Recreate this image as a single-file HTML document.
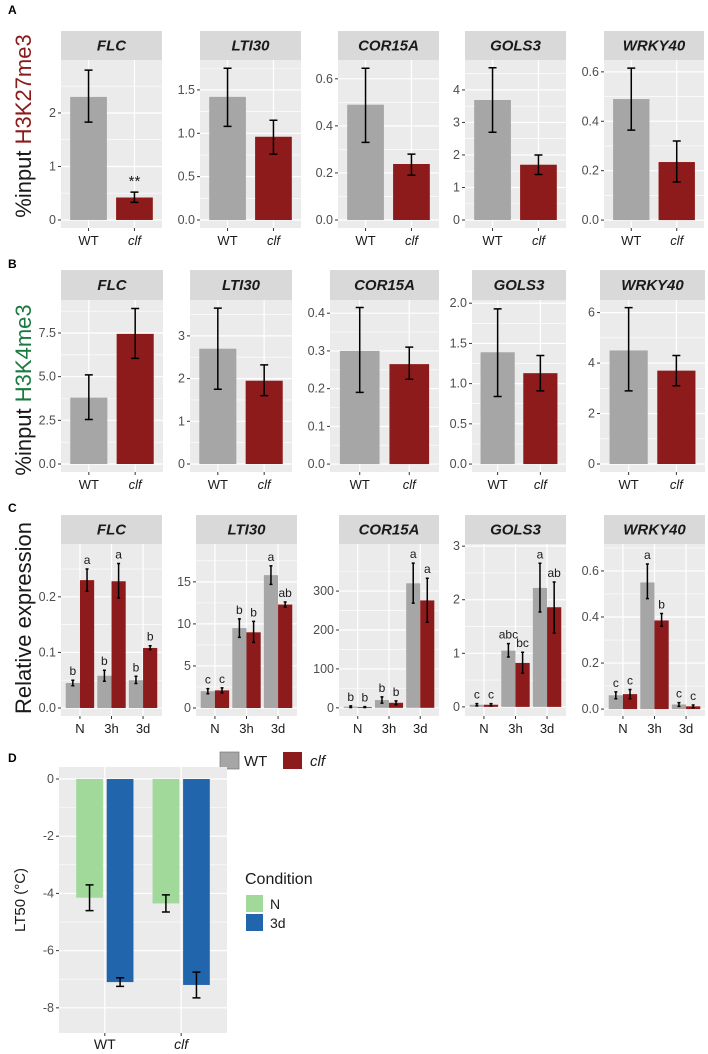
<!DOCTYPE html>
<html><head><meta charset="utf-8"><style>
body{margin:0;background:#fff;}
svg{display:block;font-family:"Liberation Sans",sans-serif;}
</style></head><body>
<svg id="fig" width="708" height="1054" viewBox="0 0 708 1054" xmlns="http://www.w3.org/2000/svg">
<text x="8" y="14" font-size="12" font-weight="bold">A</text>
<text x="8" y="268" font-size="12" font-weight="bold">B</text>
<text x="8" y="512" font-size="12" font-weight="bold">C</text>
<text x="8" y="762" font-size="12" font-weight="bold">D</text>
<text transform="translate(31,126) rotate(-90)" text-anchor="middle" font-size="22" fill="#1a1a1a">%input <tspan fill="#8b1a1a">H3K27me3</tspan></text>
<text transform="translate(31,390) rotate(-90)" text-anchor="middle" font-size="22" fill="#1a1a1a">%input <tspan fill="#1a7a40">H3K4me3</tspan></text>
<text transform="translate(31,618) rotate(-90)" text-anchor="middle" font-size="22" fill="#1a1a1a">Relative expression</text>
<g>
<rect x="220" y="752" width="19" height="17" fill="#a6a6a6" stroke="#777" stroke-width="0.7"/>
<text x="244" y="766" font-size="15" fill="#1a1a1a">WT</text>
<rect x="283" y="752" width="19" height="17" fill="#8e1b1b"/>
<text x="310" y="766" font-size="15" font-style="italic" fill="#1a1a1a">clf</text>
</g>
<text transform="translate(25,900) rotate(-90)" text-anchor="middle" font-size="15" fill="#1a1a1a">LT50 (°C)</text>
<g>
<text x="245" y="884" font-size="16" fill="#1a1a1a">Condition</text>
<rect x="246" y="895" width="17" height="17" fill="#a1d99b"/>
<text x="270" y="909" font-size="14" fill="#1a1a1a">N</text>
<rect x="246" y="914" width="17" height="17" fill="#2166ac"/>
<text x="270" y="928" font-size="14" fill="#1a1a1a">3d</text>
</g>
</svg>
<script>
// ---- data ----
const genes = ["FLC","LTI30","COR15A","GOLS3","WRKY40"];
const genotypes = ["WT","clf"];
const timepoints = ["N","3h","3d"];
// Panel A: H3K27me3 [WT, clf]
const aMean = [[2.3,0.42],[1.42,0.96],[0.49,0.238],[3.69,1.7],[0.49,0.235]];
const aLo = [[1.83,0.33],[1.08,0.76],[0.33,0.19],[2.7,1.4],[0.364,0.154]];
const aHi = [[2.8,0.52],[1.75,1.15],[0.645,0.28],[4.68,2.0],[0.615,0.32]];
const aTicks = [[0,1,2],[0,0.5,1,1.5],[0,0.2,0.4,0.6],[0,1,2,3,4],[0,0.2,0.4,0.6]];
const aTickLabels = [["0","1","2"],["0.0","0.5","1.0","1.5"],["0.0","0.2","0.4","0.6"],["0","1","2","3","4"],["0.0","0.2","0.4","0.6"]];
const aDomain = [[-0.15,2.99],[-0.092,1.845],[-0.034,0.68],[-0.246,4.92],[-0.032,0.648]];
// Panel B: H3K4me3
const bMean = [[3.8,7.45],[2.7,1.95],[0.30,0.265],[1.39,1.13],[4.5,3.7]];
const bLo = [[2.55,6.05],[1.75,1.6],[0.19,0.225],[0.84,0.91],[2.9,3.1]];
const bHi = [[5.1,8.9],[3.65,2.32],[0.415,0.31],[1.93,1.35],[6.2,4.3]];
const bTicks = [[0,2.5,5,7.5],[0,1,2,3],[0,0.1,0.2,0.3,0.4],[0,0.5,1,1.5,2],[0,2,4,6]];
const bTickLabels = [["0.0","2.5","5.0","7.5"],["0","1","2","3"],["0.0","0.1","0.2","0.3","0.4"],["0.0","0.5","1.0","1.5","2.0"],["0","2","4","6"]];
const bDomain = [[-0.458,9.39],[-0.187,3.84],[-0.021,0.435],[-0.099,2.04],[-0.317,6.5]];
// Panel C: relative expression [timepoint][WT, clf]
const cMean = [
 [[0.045,0.23],[0.058,0.228],[0.05,0.108]],
 [[2.0,2.1],[9.5,9.0],[15.8,12.3]],
 [[3,2],[20,13],[320,276]],
 [[0.04,0.04],[1.05,0.82],[2.22,1.86]],
 [[0.06,0.065],[0.55,0.385],[0.02,0.012]]];
const cLo = [
 [[0.04,0.21],[0.048,0.198],[0.044,0.105]],
 [[1.7,1.8],[8.4,7.8],[14.7,12.0]],
 [[1,1],[12,8],[269,220]],
 [[0.02,0.02],[0.93,0.63],[1.77,1.38]],
 [[0.045,0.045],[0.48,0.36],[0.012,0.006]]];
const cHi = [
 [[0.05,0.25],[0.068,0.26],[0.057,0.112]],
 [[2.3,2.4],[10.6,10.3],[16.9,12.6]],
 [[5,3],[28,18],[372,333]],
 [[0.06,0.06],[1.18,1.02],[2.68,2.33]],
 [[0.075,0.085],[0.63,0.415],[0.028,0.018]]];
const cLetters = [
 [["b","a"],["b","a"],["b","b"]],
 [["c","c"],["b","b"],["a","ab"]],
 [["b","b"],["b","b"],["a","a"]],
 [["c","c"],["abc","bc"],["a","ab"]],
 [["c","c"],["a","b"],["c","c"]]];
const cTicks = [[0,0.1,0.2],[0,5,10,15],[0,100,200,300],[0,1,2,3],[0,0.2,0.4,0.6]];
const cTickLabels = [["0.0","0.1","0.2"],["0","5","10","15"],["0","100","200","300"],["0","1","2","3"],["0.0","0.2","0.4","0.6"]];
const cDomain = [[-0.0144,0.295],[-0.95,19.5],[-21,421],[-0.17,3.04],[-0.03,0.717]];
// Panel D: LT50 [genotype][N, 3d]
const conditions = ["N","3d"];
const dMean = [[-4.15,-7.1],[-4.35,-7.2]];
const dLo = [[-4.6,-7.25],[-4.65,-7.65]];
const dHi = [[-3.7,-6.95],[-4.05,-6.75]];
const dTicks = [0,-2,-4,-6,-8];
const dTickLabels = ["0","-2","-4","-6","-8"];

// ---- layout ----
const NS="http://www.w3.org/2000/svg";
const svg=document.getElementById("fig");
const GREY="#a6a6a6", RED="#8e1b1b";
function mk(tag,attrs,parent){const e=document.createElementNS(NS,tag);for(const k in attrs)e.setAttribute(k,attrs[k]);(parent||svg).appendChild(e);return e;}
function scaleY(dom,top,bot){return v=>bot-(v-dom[0])/(dom[1]-dom[0])*(bot-top);}
function errbar(g,x,y1,y2,cap,name){
 const e=mk("path",{d:`M${x-cap},${y1}H${x+cap}M${x},${y1}V${y2}M${x-cap},${y2}H${x+cap}`,stroke:"#000","stroke-width":1.5,fill:"none"},g);
 
 
}
function panelFrame(g,x0,w,stripTop,top,bot,gene,ticks,labels,y,cx,xlabels,italicIdx){
 const s=mk("rect",{x:x0,y:stripTop,width:w,height:top-stripTop,fill:"#d9d9d9"},g);
 
 
 const st=mk("text",{x:x0+w/2,y:(stripTop+top)/2+5,"text-anchor":"middle","font-size":15,"font-weight":"bold","font-style":"italic",fill:"#1a1a1a"},g);
 st.textContent=gene;
 
 
 const bg=mk("rect",{x:x0,y:top,width:w,height:bot-top,fill:"#ebebeb"},g);
 
 
 for(let i=0;i<ticks.length;i++){
  const mid=i<ticks.length-1?(ticks[i]+ticks[i+1])/2:ticks[i]+(ticks[i]-ticks[i-1])/2;
  const my=y(mid); if(my>top&&my<bot){const l=mk("line",{x1:x0,x2:x0+w,y1:my,y2:my,stroke:"#fff","stroke-width":0.6},g);}
 }
 if(ticks.length>0){const m0=ticks[0]-(ticks[1]-ticks[0])/2;const my=y(m0);if(my>top&&my<bot){const l=mk("line",{x1:x0,x2:x0+w,y1:my,y2:my,stroke:"#fff","stroke-width":0.6},g);}}
 ticks.forEach((t,i)=>{
  const ty=y(t);
  const l=mk("line",{x1:x0,x2:x0+w,y1:ty,y2:ty,stroke:"#fff","stroke-width":1.2},g);
  
  
  mk("line",{x1:x0-3,x2:x0,y1:ty,y2:ty,stroke:"#333","stroke-width":1},g);
  const tl=mk("text",{x:x0-5,y:ty+4,"text-anchor":"end","font-size":12.5,fill:"#4d4d4d"},g);
  tl.textContent=labels[i];
  
  
 });
 cx.forEach((c,i)=>{
  const l=mk("line",{x1:c,x2:c,y1:top,y2:bot,stroke:"#fff","stroke-width":1.2},g);
  
  
  mk("line",{x1:c,x2:c,y1:bot,y2:bot+3,stroke:"#333","stroke-width":1},g);
  const xl=mk("text",{x:c,y:bot+17,"text-anchor":"middle","font-size":13,fill:"#1a1a1a","font-style":(i===italicIdx?"italic":"normal")},g);
  xl.textContent=xlabels[i];
  
  
 });
}
function twoBarRow(rowName,lefts,widths,stripTop,top,bot,means,los,his,ticks,tlabels,domains,stars){
 genes.forEach((gene,p)=>{
  const g=mk("g",{});
  
  
  const x0=lefts[p],w=widths[p],y=scaleY(domains[p],top,bot),u=w/2.2;
  const cx=genotypes.map((_,i)=>x0+u*(0.6+i));
  panelFrame(g,x0,w,stripTop,top,bot,gene,ticks[p],tlabels[p],y,cx,genotypes,1);
  genotypes.forEach((gt,i)=>{
   const b=mk("rect",{x:cx[i]-0.4*u,width:0.8*u,y:y(means[p][i]),height:y(0)-y(means[p][i]),fill:i?RED:GREY},g);
   
   
   errbar(g,cx[i],y(his[p][i]),y(los[p][i]),4,'error-bar-'+gt.toLowerCase());
  });
  if(stars&&stars[p]){const t=mk("text",{x:cx[1],y:y(his[p][1])-6,"text-anchor":"middle","font-size":15,fill:"#1a1a1a"},g);t.textContent=stars[p];}
 });
}
twoBarRow("h3k27me3",[61,200,338,465,604],[101,101,101,101,100],31,60,228,aMean,aLo,aHi,aTicks,aTickLabels,aDomain,["**","","","",""]);
twoBarRow("h3k4me3",[61,190,330,472,600],[102,102,109,94,105],270,300,472,bMean,bLo,bHi,bTicks,bTickLabels,bDomain,null);

// Row C
const cLefts=[61,196,339,465,604], cWidths=[101,101,100,101,101];
genes.forEach((gene,p)=>{
 const g=mk("g",{});
 
 
 const top=544,bot=716,x0=cLefts[p],w=cWidths[p],y=scaleY(cDomain[p],top,bot),u=w/3.2;
 const cx=timepoints.map((_,i)=>x0+u*(0.6+i));
 panelFrame(g,x0,w,515,top,bot,gene,cTicks[p],cTickLabels[p],y,cx,timepoints,-1);
 timepoints.forEach((tp,i)=>{
  genotypes.forEach((gt,j)=>{
   const bx=cx[i]+(j?0.225:-0.225)*u, v=cMean[p][i][j];
   const b=mk("rect",{x:bx-0.225*u,width:0.45*u,y:y(Math.max(v,0)),height:Math.abs(y(0)-y(v)),fill:j?RED:GREY},g);
   
   
   errbar(g,bx,y(cHi[p][i][j]),y(cLo[p][i][j]),1.5,'error-bar-'+gt.toLowerCase()+'-'+tp);
   const t=mk("text",{x:bx,y:y(cHi[p][i][j])-5,"text-anchor":"middle","font-size":12,fill:"#1a1a1a"},g);
   t.textContent=cLetters[p][i][j];
   
   
  });
 });
});

// Panel D
(function(){
 const g=mk("g",{});
 
 
 const x0=59,w=168,top=767,bot=1033,dom=[-8.88,0.42];
 const y=scaleY(dom,top,bot),u=w/2.2;
 const bg=mk("rect",{x:x0,y:top,width:w,height:bot-top,fill:"#ebebeb"},g);
 
 
 for(let k=-1;k>=-7;k-=2){const l=mk("line",{x1:x0,x2:x0+w,y1:y(k),y2:y(k),stroke:"#fff","stroke-width":0.6},g);}
 dTicks.forEach((t,i)=>{
  const l=mk("line",{x1:x0,x2:x0+w,y1:y(t),y2:y(t),stroke:"#fff","stroke-width":1.2},g);
  
  
  mk("line",{x1:x0-3,x2:x0,y1:y(t),y2:y(t),stroke:"#333","stroke-width":1},g);
  const tl=mk("text",{x:x0-5,y:y(t)+4,"text-anchor":"end","font-size":12.5,fill:"#4d4d4d"},g);
  tl.textContent=dTickLabels[i];
  
  
 });
 genotypes.forEach((gt,i)=>{
  const c=x0+u*(0.6+i);
  const l=mk("line",{x1:c,x2:c,y1:top,y2:bot,stroke:"#fff","stroke-width":1.2},g);
  
  
  mk("line",{x1:c,x2:c,y1:bot,y2:bot+3,stroke:"#333","stroke-width":1},g);
  const xl=mk("text",{x:c,y:bot+16,"text-anchor":"middle","font-size":14,fill:"#1a1a1a","font-style":i?"italic":"normal"},g);
  xl.textContent=gt;
  
  
  conditions.forEach((cd,j)=>{
   const bx=c+(j?0.2:-0.2)*u, v=dMean[i][j];
   const b=mk("rect",{x:bx-0.175*u,width:0.35*u,y:y(0),height:y(v)-y(0),fill:j?"#2166ac":"#a1d99b"},g);
   
   
   errbar(g,bx,y(dHi[i][j]),y(dLo[i][j]),4,'error-bar-'+gt.toLowerCase()+'-'+cd);
  });
 });
})();
</script>
</body></html>
